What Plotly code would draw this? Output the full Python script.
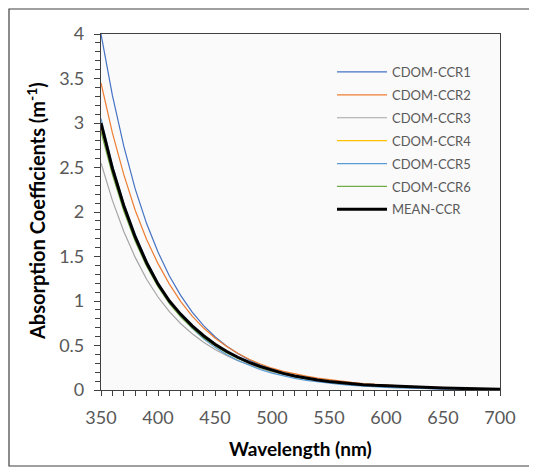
import plotly.graph_objects as go

wavelength = list(range(350, 701, 10))

ccr1 = [4.00, 3.31, 2.74, 2.26, 1.87, 1.55, 1.28, 1.06, 0.874, 0.723, 0.598, 0.494, 0.409, 0.338, 0.279, 0.231,
        0.191, 0.158, 0.131, 0.108, 0.089, 0.074, 0.061, 0.050, 0.042, 0.035, 0.029, 0.024, 0.020, 0.016, 0.013,
        0.011, 0.009, 0.008, 0.006, 0.005]
ccr2 = [3.45, 2.89, 2.42, 2.02, 1.69, 1.42, 1.19, 0.993, 0.831, 0.696, 0.585, 0.492, 0.412, 0.345, 0.292, 0.245,
        0.210, 0.180, 0.155, 0.133, 0.115, 0.099, 0.085, 0.073, 0.063, 0.054, 0.046, 0.040, 0.034, 0.029, 0.025,
        0.021, 0.018, 0.015, 0.013, 0.011]
ccr3 = [2.55, 2.13, 1.78, 1.49, 1.245, 1.045, 0.88, 0.745, 0.632, 0.537, 0.456, 0.388, 0.330, 0.281, 0.239, 0.204,
        0.174, 0.148, 0.126, 0.108, 0.092, 0.078, 0.067, 0.057, 0.049, 0.042, 0.036, 0.031, 0.026, 0.022, 0.019,
        0.016, 0.014, 0.012, 0.010, 0.009]
ccr4 = [2.95, 2.45, 2.04, 1.70, 1.41, 1.175, 0.99, 0.84, 0.71, 0.60, 0.508, 0.43, 0.363, 0.306, 0.258, 0.218,
        0.184, 0.156, 0.131, 0.111, 0.094, 0.079, 0.067, 0.057, 0.049, 0.042, 0.036, 0.031, 0.027, 0.023, 0.019,
        0.016, 0.014, 0.011, 0.009, 0.007]
ccr5 = [3.05, 2.53, 2.10, 1.75, 1.45, 1.21, 1.00, 0.834, 0.693, 0.576, 0.479, 0.398, 0.331, 0.275, 0.228, 0.190,
        0.158, 0.131, 0.109, 0.091, 0.075, 0.063, 0.052, 0.043, 0.036, 0.030, 0.025, 0.021, 0.017, 0.014, 0.012,
        0.010, 0.008, 0.007, 0.006, 0.005]
ccr6 = [2.90, 2.42, 2.01, 1.67, 1.39, 1.16, 0.97, 0.82, 0.695, 0.588, 0.497, 0.42, 0.354, 0.298, 0.251, 0.211,
        0.178, 0.15, 0.127, 0.107, 0.09, 0.077, 0.066, 0.056, 0.048, 0.042, 0.036, 0.031, 0.027, 0.023, 0.02,
        0.017, 0.014, 0.012, 0.01, 0.008]
mean_ccr = [3.00, 2.49, 2.07, 1.72, 1.43, 1.19, 1.00, 0.85, 0.72, 0.61, 0.515, 0.435, 0.368, 0.31, 0.262, 0.221,
            0.187, 0.158, 0.133, 0.112, 0.095, 0.081, 0.070, 0.060, 0.052, 0.046, 0.040, 0.035, 0.030, 0.026, 0.022,
            0.019, 0.016, 0.013, 0.010, 0.008]

series = [
    ("CDOM-CCR1", ccr1, "#4472C4", 1.2),
    ("CDOM-CCR2", ccr2, "#ED7D31", 1.2),
    ("CDOM-CCR3", ccr3, "#A5A5A5", 1.2),
    ("CDOM-CCR4", ccr4, "#FFC000", 1.2),
    ("CDOM-CCR5", ccr5, "#5B9BD5", 1.2),
    ("CDOM-CCR6", ccr6, "#70AD47", 1.2),
    ("MEAN-CCR", mean_ccr, "#000000", 3),
]

x_ticks = [350, 400, 450, 500, 550, 600, 650, 700]
y_ticks = [0, 0.5, 1, 1.5, 2, 2.5, 3, 3.5, 4]

fig = go.Figure()
for name, vals, color, w in series:
    fig.add_trace(go.Scatter(x=wavelength, y=vals, mode="lines", name=name, legendgroup=name,
                             line=dict(color=color, width=w)))

FONT = "Lato"
OFF = 8  # page body margin
W, H = 537 - OFF, 468 - OFF
L, T = 101 - OFF, 34 - OFF
R = W - L - 399
B = H - T - 356
PW, PH = 399, 356


def px(xv):
    return (xv - 101) / PW


def py(yv):
    return (390 - yv) / PH


fig.update_layout(
    width=W, height=H,
    margin=dict(l=L, r=R, t=T, b=B, autoexpand=False),
    paper_bgcolor="white", plot_bgcolor="#fafafa",
    font=dict(family=FONT, color="#595959"),
    showlegend=True,
    legend=dict(x=px(332), y=py(57), xanchor="left", yanchor="top",
                bgcolor="rgba(0,0,0,0)", font=dict(size=13, family=FONT, color="#595959"),
                itemwidth=50, tracegroupgap=3),
    xaxis=dict(range=[350, 700], tickvals=x_ticks, ticktext=[str(v) for v in x_ticks],
               showgrid=False, zeroline=False, showline=True, linecolor="#404040", linewidth=1.2,
               mirror=True, ticks="outside", ticklen=5, tickcolor="#404040",
               tickfont=dict(size=18, family=FONT, color="#595959"), ticklabelstandoff=6,
               minor=dict(dtick=10, ticks="outside", ticklen=5, tickcolor="#404040", showgrid=False)),
    yaxis=dict(range=[0, 4], tickvals=y_ticks, ticktext=[f"{v:g}" for v in y_ticks],
               showgrid=False, zeroline=False, showline=True, linecolor="#404040", linewidth=1.2,
               mirror=True, ticks="outside", ticklen=6, tickcolor="#404040",
               tickfont=dict(size=18, family=FONT, color="#595959"), ticklabelstandoff=6,
               minor=dict(dtick=0.1, ticks="outside", ticklen=5, tickcolor="#404040", showgrid=False)),
    annotations=[
        dict(text="<b>Wavelength (nm)</b>", xref="paper", yref="paper",
             x=0.5, y=py(449), xanchor="center", yanchor="middle", showarrow=False,
             font=dict(size=19, family=FONT, color="#000000")),
        dict(text="<b>Absorption Coefficients (m<sup>-1</sup>)</b>", xref="paper", yref="paper",
             x=px(36), y=py(211), xanchor="center", yanchor="middle", showarrow=False,
             textangle=-90, font=dict(size=20, family=FONT, color="#000000")),
    ],
    shapes=[
        dict(type="rect", xref="paper", yref="paper",
             x0=px(9), x1=px(560), y0=py(466), y1=py(9),
             line=dict(color="#404040", width=1.2), layer="below"),
    ],
)

fig.write_html("out.html")
